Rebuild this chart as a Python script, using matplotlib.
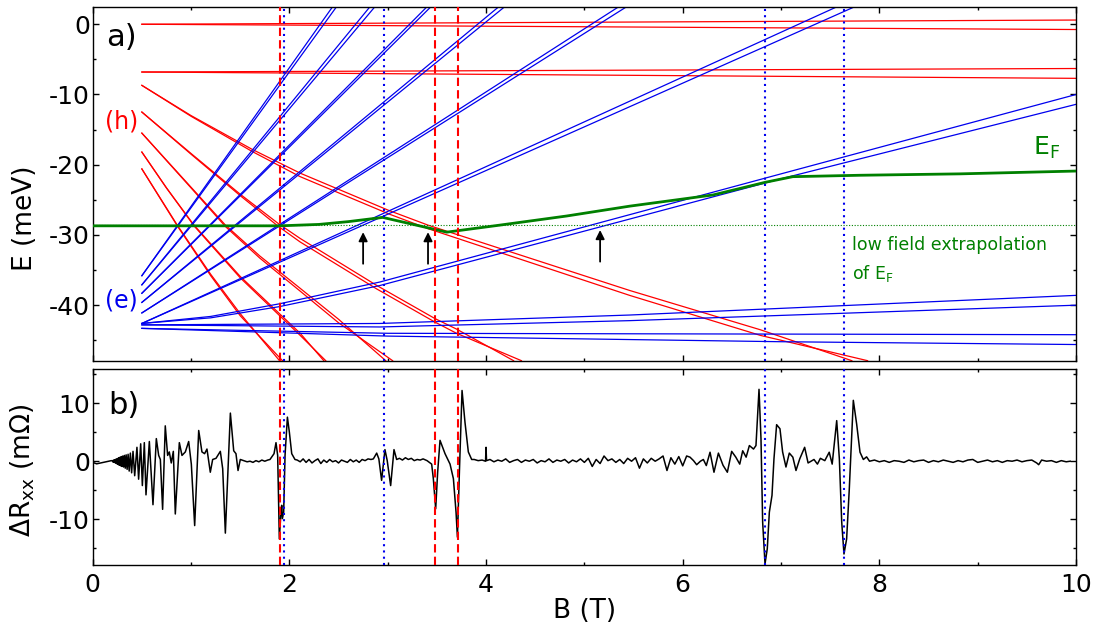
"""
Landau level fan (top) and the magnetoresistance trace (bottom) versus field B.
"""

import numpy as np
import matplotlib.pyplot as plt
from matplotlib.ticker import MultipleLocator

# ---- panel a): levels as (B [T], E [meV]) points, each level is a spin-split pair ----
# hole levels (red)
h0_a = [(0.5, 0.0), (10.0, 0.6)]
h0_b = [(0.5, 0.0), (10.0, -0.75)]
h1_a = [(0.5, -6.8), (10.0, -6.3)]
h1_b = [(0.5, -6.8), (10.0, -7.7)]
h2_a = [(0.5, -8.7), (1.0, -13.0), (1.62, -17.8), (2.11, -21.2), (3.01, -26.5),
        (3.41, -28.6), (5.46, -37.9), (6.79, -43.5), (7.72, -47.9)]
h2_b = [(0.5, -8.7), (1.0, -13.1), (1.62, -18.1), (2.11, -21.7), (3.01, -27.0),
        (3.41, -29.1), (5.46, -38.6), (6.79, -44.3), (7.88, -47.9)]
h3_a = [(0.5, -12.5), (1.0, -18.4), (1.5, -24.2), (1.89, -28.4), (2.11, -30.5),
        (2.89, -37.2), (3.48, -41.9), (3.70, -43.4), (4.28, -47.9)]
h3_b = [(0.5, -12.5), (1.0, -18.5), (1.5, -24.4), (1.89, -28.8), (2.11, -31.0),
        (2.89, -37.7), (3.48, -42.4), (3.70, -44.0), (4.36, -47.9)]
h4_a = [(0.5, -15.5), (1.0, -23.2), (1.35, -28.6), (1.7, -33.0), (2.11, -37.6),
        (2.5, -42.0), (2.98, -47.9)]
h4_b = [(0.5, -15.5), (1.0, -23.3), (1.35, -28.8), (1.7, -33.3), (2.11, -38.0),
        (2.5, -42.5), (3.05, -47.9)]
h5_a = [(0.5, -18.2), (0.75, -23.3), (1.03, -28.6), (1.5, -35.9), (2.11, -44.0), (2.35, -47.9)]
h5_b = [(0.5, -18.2), (0.75, -23.3), (1.03, -28.7), (1.5, -36.1), (2.11, -44.3), (2.37, -47.9)]
h6_a = [(0.5, -20.6), (0.86, -28.6), (1.2, -35.6), (1.5, -41.2), (1.90, -47.9)]
h6_b = [(0.5, -20.6), (0.86, -28.7), (1.2, -35.8), (1.5, -41.5), (1.93, -47.9)]

# electron levels (blue)
eA_a = [(0.5, -35.8), (2.44, 2.5)]
eA_b = [(0.5, -35.8), (2.48, 2.5)]
eB_a = [(0.5, -37.1), (2.82, 2.5)]
eB_b = [(0.5, -37.1), (2.87, 2.5)]
eC_a = [(0.5, -38.3), (3.40, 2.5)]
eC_b = [(0.5, -38.3), (3.44, 2.5)]
eD_a = [(0.5, -39.6), (4.13, 2.5)]
eD_b = [(0.5, -39.6), (4.19, 2.5)]
eE_a = [(0.5, -41.1), (5.35, 2.5)]
eE_b = [(0.5, -41.1), (5.43, 2.5)]
eF_a = [(0.5, -42.6), (7.57, 2.5)]
eF_b = [(0.5, -42.6), (7.75, 2.5)]
eG_a = [(0.5, -42.6), (1.2, -41.6), (1.9, -39.8), (2.92, -36.7), (7.0, -21.3), (10.0, -10.0)]
eG_b = [(0.5, -42.6), (1.2, -41.8), (1.9, -40.2), (2.92, -37.2), (7.0, -22.0), (10.0, -11.4)]
eH_a = [(0.5, -42.8), (2.92, -42.6), (5.46, -41.4), (10.0, -38.6)]
eH_b = [(0.5, -42.8), (2.92, -43.1), (5.46, -42.2), (10.0, -40.0)]
eI_a = [(0.5, -43.3), (3.0, -44.0), (10.0, -44.2)]
eI_b = [(0.5, -43.3), (3.0, -44.4), (7.0, -45.2), (10.0, -45.6)]

hole_levels = [h0_a, h0_b, h1_a, h1_b, h2_a, h2_b, h3_a, h3_b,
               h4_a, h4_b, h5_a, h5_b, h6_a, h6_b]
electron_levels = [eA_a, eA_b, eB_a, eB_b, eC_a, eC_b, eD_a, eD_b, eE_a, eE_b,
                   eF_a, eF_b, eG_a, eG_b, eH_a, eH_b, eI_a, eI_b]

# Fermi energy
ef_B = [0.0, 1.9, 2.3, 2.6, 2.95, 3.6, 4.14, 4.82, 5.46, 6.31, 6.84, 7.12, 7.8, 8.82, 10.0]
ef_E = [-28.7, -28.7, -28.5, -28.1, -27.5, -29.6, -28.6, -27.3, -25.9, -24.3, -22.5,
        -21.7, -21.5, -21.3, -20.9]
ef_low_field = -28.6

arrow_B = [2.75, 3.41, 5.16]
arrow_tip = [-29.6, -29.6, -29.3]

# coincidence fields (vertical markers)
hole_fields = [1.90, 3.48, 3.71]
electron_fields = [1.95, 2.96, 6.84, 7.64]

# ---- panel b): Delta R_xx (mOhm) versus B (T) ----
rxx_points = [
    (0.00, -0.2), (0.04, -0.45), (0.08, -0.3), (0.12, -0.15), (0.16, 0.0), (0.19, 0.1),
    (0.200, 0.05), (0.204, -0.1), (0.208, 0.15), (0.212, -0.15), (0.216, 0.2), (0.220, -0.2),
    (0.224, 0.25), (0.228, -0.25), (0.232, 0.3), (0.235, -0.3), (0.239, 0.35), (0.243, -0.4),
    (0.247, 0.4), (0.252, -0.5), (0.257, 0.5), (0.262, -0.6), (0.267, 0.6), (0.273, -0.7),
    (0.279, 0.7), (0.285, -0.8), (0.292, 0.8), (0.299, -0.9), (0.306, 0.9), (0.314, -1.0),
    (0.322, 1.0), (0.331, -1.2), (0.340, 1.1), (0.350, -1.4), (0.360, 1.2), (0.371, -1.7),
    (0.383, 1.4), (0.396, -2.0), (0.410, 1.7), (0.427, -2.5), (0.450, 2.4), (0.467, -3.1),
    (0.488, 3.0), (0.505, -4.2), (0.525, 3.2), (0.542, -5.8), (0.576, 3.4), (0.613, -7.5),
    (0.647, 3.9), (0.671, 1.0), (0.688, 0.3), (0.711, -8.3), (0.738, 6.1), (0.762, 1.0),
    (0.779, 1.6), (0.799, -0.3), (0.820, 1.7), (0.840, -9.1), (0.881, 3.2), (0.908, 1.0),
    (0.942, 1.6), (0.976, 3.4), (1.003, -0.5), (1.037, -11.1), (1.078, 5.3), (1.111, 1.6),
    (1.138, 1.3), (1.162, 2.1), (1.196, -1.9), (1.220, 0.3), (1.254, 0.5), (1.298, 1.7),
    (1.322, -1.3), (1.349, -12.4), (1.400, 8.3), (1.434, 1.8), (1.457, 1.3), (1.478, -1.6),
    (1.501, 0.3), (1.535, 0.1), (1.57, -0.1), (1.60, 0.0), (1.63, -0.2), (1.66, 0.1),
    (1.69, -0.1), (1.72, 0.2), (1.75, 0.0), (1.78, 0.2), (1.803, 0.3), (1.844, 1.3),
    (1.864, 3.2), (1.881, 1.0), (1.898, -13.4), (1.912, -9.4), (1.922, -7.6), (1.929, -9.9),
    (1.942, -8.8), (1.956, 1.0), (1.980, 7.6), (2.000, 5.0), (2.024, 1.3), (2.057, 0.3),
    (2.08, 0.2), (2.11, -0.1), (2.14, 0.4), (2.17, -0.2), (2.20, 0.3), (2.23, -0.3),
    (2.26, 0.1), (2.29, 0.4), (2.32, -0.4), (2.35, 0.2), (2.38, -0.2), (2.41, 0.3),
    (2.44, -0.1), (2.47, 0.1), (2.50, -0.3), (2.53, 0.2), (2.56, 0.0), (2.59, -0.2),
    (2.62, 0.3), (2.65, -0.1), (2.68, 0.2), (2.71, -0.2), (2.74, 0.3), (2.77, 0.1),
    (2.80, 0.4), (2.83, 0.3), (2.854, 0.4), (2.888, 1.4), (2.91, 0.4), (2.938, -3.3),
    (2.972, 2.0), (2.995, 0.1), (3.030, -4.2), (3.064, 2.0), (3.091, 0.3), (3.12, 0.5),
    (3.15, 0.2), (3.18, 0.6), (3.21, 0.3), (3.24, 0.5), (3.27, 0.1), (3.30, 0.3),
    (3.33, 0.2), (3.36, 0.4), (3.40, 0.1), (3.447, -0.5), (3.464, -3.0), (3.488, -8.2),
    (3.508, -1.9), (3.532, 3.6), (3.583, 1.3), (3.634, -0.5), (3.668, -3.0), (3.695, -8.8),
    (3.709, -13.1), (3.729, -1.9), (3.756, 12.2), (3.786, 6.7), (3.820, 1.6), (3.854, 0.3),
    (3.88, 0.3), (3.92, 0.1), (3.96, 0.2), (3.995, 0.0), (4.0, 2.4), (4.005, 0.1),
    (4.04, 0.3), (4.08, -0.1), (4.12, 0.2), (4.16, 0.0), (4.20, 0.4), (4.24, -0.2),
    (4.28, 0.1), (4.32, 0.3), (4.36, -0.2), (4.40, 0.2), (4.44, 0.0), (4.48, 0.3),
    (4.52, -0.3), (4.56, 0.1), (4.60, -0.1), (4.64, 0.4), (4.68, -0.2), (4.72, 0.2),
    (4.76, 0.0), (4.80, 0.3), (4.84, -0.3), (4.88, 0.2), (4.92, -0.1), (4.96, 0.4),
    (5.00, -0.2), (5.04, 0.5), (5.08, -0.9), (5.12, 0.3), (5.16, -0.4), (5.20, 0.9),
    (5.24, 0.1), (5.28, 0.4), (5.32, -0.2), (5.36, 0.3), (5.40, -0.4), (5.44, 0.5),
    (5.48, 0.0), (5.52, 0.6), (5.56, -1.2), (5.60, 0.4), (5.64, -0.3), (5.68, 0.5),
    (5.72, 0.0), (5.76, 0.4), (5.80, 0.9), (5.84, -1.6), (5.88, 0.6), (5.92, -0.5),
    (5.96, 0.8), (6.00, -0.8), (6.04, 0.9), (6.074, 0.7), (6.11, 0.1), (6.142, -0.6),
    (6.18, 0.0), (6.21, 0.3), (6.24, -0.75), (6.278, 1.55), (6.318, -1.9), (6.363, 1.4),
    (6.41, -0.7), (6.454, -1.9), (6.498, 1.7), (6.54, 0.7), (6.58, -0.5), (6.61, 1.8),
    (6.645, 0.7), (6.678, 2.7), (6.72, 2.1), (6.745, 2.7), (6.776, 12.4), (6.796, 3.9),
    (6.813, -10.5), (6.837, -17.7), (6.86, -15.1), (6.881, -8.8), (6.908, -5.9), (6.928, 0.4),
    (6.955, 6.3), (6.989, 5.6), (7.016, 1.6), (7.05, -1.0), (7.084, 1.4), (7.12, 0.7),
    (7.152, -1.6), (7.19, 0.4), (7.24, 2.4), (7.275, -0.3), (7.335, 0.3), (7.37, -0.5),
    (7.40, 0.5), (7.445, 0.1), (7.49, 1.55), (7.52, -0.5), (7.566, 7.0), (7.593, 0.4),
    (7.617, -10.5), (7.64, -16.0), (7.667, -13.4), (7.694, -4.8), (7.735, 10.5), (7.769, 6.4),
    (7.803, 1.55), (7.837, 0.3), (7.87, 0.75), (7.90, 0.0), (7.95, 0.2), (8.00, -0.1),
    (8.05, 0.1), (8.10, -0.2), (8.15, 0.1), (8.20, 0.0), (8.25, -0.2), (8.30, 0.2),
    (8.35, -0.1), (8.40, 0.1), (8.45, 0.2), (8.50, -0.2), (8.55, 0.1), (8.60, -0.1),
    (8.65, 0.2), (8.70, 0.0), (8.75, -0.2), (8.80, 0.1), (8.85, -0.1), (8.90, 0.2),
    (8.95, 0.3), (9.00, -0.2), (9.05, 0.0), (9.10, 0.2), (9.15, -0.1), (9.20, 0.1),
    (9.25, -0.2), (9.30, 0.1), (9.35, 0.0), (9.40, 0.2), (9.45, -0.1), (9.50, 0.1),
    (9.55, 0.2), (9.60, -0.3), (9.62, -0.6), (9.65, 0.2), (9.70, 0.0), (9.75, 0.1),
    (9.80, -0.2), (9.85, 0.1), (9.90, -0.1), (9.94, 0.0),
]

RED = '#ff0000'
BLUE = '#0000ee'
GREEN = '#008000'

plt.rcParams['font.family'] = 'DejaVu Sans'
plt.rcParams['axes.unicode_minus'] = False

fig = plt.figure(figsize=(10.97, 6.32), dpi=100)
ax1 = fig.add_axes([0.0845, 0.4293, 0.8964, 0.5601])
ax2 = fig.add_axes([0.0845, 0.1060, 0.8964, 0.3101])

# levels
for level in hole_levels:
    b, e = zip(*level)
    ax1.plot(b, e, color=RED, lw=0.9)
for level in electron_levels:
    b, e = zip(*level)
    ax1.plot(b, e, color=BLUE, lw=0.9)

ax1.axhline(ef_low_field, color=GREEN, lw=0.8, ls=(0, (1, 1.5)))
ax1.plot(ef_B, ef_E, color=GREEN, lw=2.0, zorder=4)

for b, tip in zip(arrow_B, arrow_tip):
    ax1.annotate('', xy=(b, tip), xytext=(b, tip - 4.5),
                 arrowprops=dict(arrowstyle='-|>', color='black', lw=1.3,
                                 mutation_scale=13, shrinkA=0, shrinkB=0))

# trace
rxx = np.array(rxx_points)
ax2.plot(rxx[:, 0], rxx[:, 1], color='black', lw=1.1)

# vertical markers on both panels
for ax in (ax1, ax2):
    for b in hole_fields:
        ax.axvline(b, color=RED, lw=1.5, ls=(0, (4, 2)), zorder=5)
    for b in electron_fields:
        ax.axvline(b, color=BLUE, lw=1.5, ls=(0, (1, 2)), zorder=5)

# axes styling
ax1.set_xlim(0, 10)
ax1.set_ylim(-47.9, 2.5)
ax2.set_xlim(0, 10)
ax2.set_ylim(-17.9, 15.9)

for ax in (ax1, ax2):
    ax.xaxis.set_major_locator(MultipleLocator(2))
    ax.xaxis.set_minor_locator(MultipleLocator(1))
    ax.tick_params(which='both', direction='in', top=True, right=True, width=1)
    ax.tick_params(which='major', length=4)
    ax.tick_params(which='minor', length=2.5)
    ax.tick_params(axis='both', labelsize=18)
    ax.tick_params(axis='y', pad=2)
    ax.tick_params(axis='x', pad=5.5)
    for s in ax.spines.values():
        s.set_linewidth(1.0)

ax1.yaxis.set_major_locator(MultipleLocator(10))
ax1.yaxis.set_minor_locator(MultipleLocator(5))
ax2.yaxis.set_major_locator(MultipleLocator(10))
ax2.yaxis.set_minor_locator(MultipleLocator(5))
ax1.tick_params(axis='x', labelbottom=False)

ax1.set_ylabel('E (meV)', fontsize=19)
ax1.yaxis.set_label_coords(-0.056, 0.403)
ax2.set_ylabel('ΔR$_{\\mathregular{xx}}$ (mΩ)', fontsize=19)
ax2.yaxis.set_label_coords(-0.057, 0.485)
ax2.set_xlabel('B (T)', fontsize=19)
ax2.xaxis.set_label_coords(0.5, -0.168)

# annotations
ax1.text(0.029, 0.913, 'a)', transform=ax1.transAxes, fontsize=22, ha='center', va='center')
ax2.text(0.032, 0.816, 'b)', transform=ax2.transAxes, fontsize=22, ha='center', va='center')
ax1.text(0.29, -13.8, '(h)', color=RED, fontsize=17, ha='center', va='center')
ax1.text(0.29, -39.3, '(e)', color=BLUE, fontsize=17, ha='center', va='center')
ax1.text(9.70, -17.6, 'E$_{\\mathregular{F}}$', color=GREEN, fontsize=18, ha='center', va='center')
ax1.text(7.72, -31.5, 'low field extrapolation', color=GREEN, fontsize=12.5, ha='left', va='center')
ax1.text(7.72, -35.5, 'of E$_{\\mathregular{F}}$', color=GREEN, fontsize=12.5, ha='left', va='center')

fig.savefig('out.png', dpi=100)
